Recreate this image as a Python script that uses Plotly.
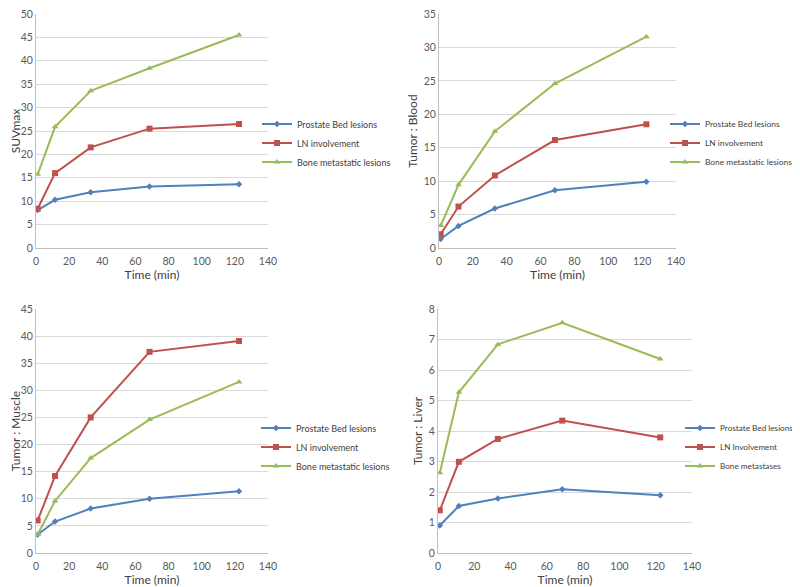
import plotly.graph_objects as go

# time points (min)
time_min = [1, 11.5, 33, 68.5, 122.5]

series_names = ["Prostate Bed lesions", "LN involvement", "Bone metastatic lesions"]
liver_names = ["Prostate Bed lesions", "LN Involvement", "Bone metastases"]

suv_prostate = [8.1, 10.3, 11.9, 13.15, 13.6]
suv_ln = [8.4, 16.0, 21.5, 25.5, 26.5]
suv_bone = [15.75, 25.9, 33.6, 38.4, 45.5]

blood_prostate = [1.35, 3.3, 5.9, 8.65, 9.9]
blood_ln = [2.05, 6.2, 10.85, 16.15, 18.5]
blood_bone = [3.35, 9.45, 17.45, 24.6, 31.6]

muscle_prostate = [3.4, 5.8, 8.2, 10.0, 11.4]
muscle_ln = [6.0, 14.2, 25.0, 37.1, 39.1]
muscle_bone = [3.4, 9.6, 17.5, 24.6, 31.55]

liver_prostate = [0.9, 1.54, 1.79, 2.09, 1.89]
liver_ln = [1.4, 2.99, 3.74, 4.34, 3.79]
liver_bone = [2.63, 5.27, 6.84, 7.55, 6.36]

colors = ["#4f81bd", "#c0504d", "#9bbb59"]
symbols = ["diamond", "square", "triangle-up"]
msizes = [5, 6, 6]

FONT = "Lato, Carlito, Calibri, Arial, sans-serif"
# page body has an 8px margin, so the figure is a bit smaller than the window
W, H = 792, 579

# positions in figure pixels (x0, x1), (y_bottom, y_top)
panels = [
    dict(ys=[suv_prostate, suv_ln, suv_bone], names=series_names, title="SUVmax",
         yrange=[0, 50], dtick=5, xdom=[28, 260], ydom=[240, 6], leg=(249, 135),
         legsize=9, tstand=2),
    dict(ys=[blood_prostate, blood_ln, blood_bone], names=series_names, title="Tumor : Blood",
         yrange=[0, 35], dtick=5, xdom=[431, 668], ydom=[240, 6], leg=(657, 135),
         legsize=8.4, tstand=3),
    dict(ys=[muscle_prostate, muscle_ln, muscle_bone], names=series_names, title="Tumor : Muscle",
         yrange=[0, 45], dtick=5, xdom=[28, 260], ydom=[545, 301], leg=(248, 439),
         legsize=9, tstand=2),
    dict(ys=[liver_prostate, liver_ln, liver_bone], names=liver_names, title="Tumor : Liver",
         yrange=[0, 8], dtick=1, xdom=[430, 684], ydom=[545, 301], leg=(672, 439),
         legsize=8.2, tstand=3),
]

fig = go.Figure()
layout = {}
for i, p in enumerate(panels):
    n = "" if i == 0 else str(i + 1)
    legname = "legend" + n
    for j in range(3):
        fig.add_trace(go.Scatter(
            x=time_min, y=p["ys"][j], name=p["names"][j], mode="lines+markers",
            line=dict(color=colors[j], width=2),
            marker=dict(symbol=symbols[j], size=msizes[j], color=colors[j]),
            xaxis="x" + n, yaxis="y" + n, legend=legname))
    layout["xaxis" + n] = dict(
        domain=[p["xdom"][0] / W, p["xdom"][1] / W], anchor="y" + n,
        range=[0, 140], dtick=20, tick0=0, automargin=False,
        showgrid=False, showline=True, linecolor="#bfbfbf", linewidth=1, ticks="",
        ticklabelstandoff=3, ticklabeloverflow="allow",
        zeroline=False, tickfont=dict(size=10.5, color="#595959"),
        title=dict(text="Time (min)", font=dict(size=12, color="#404040"), standoff=4))
    layout["yaxis" + n] = dict(
        domain=[1 - p["ydom"][0] / H, 1 - p["ydom"][1] / H], anchor="x" + n,
        range=p["yrange"], dtick=p["dtick"], tick0=0, automargin=False,
        ticklabeloverflow="allow",
        showgrid=True, gridcolor="#d9d9d9", gridwidth=1, showline=True, linecolor="#bfbfbf",
        linewidth=1, ticks="", zeroline=False, tickfont=dict(size=10.5, color="#595959"),
        title=dict(text=p["title"], font=dict(size=12, color="#404040"), standoff=p["tstand"]))
    layout[legname] = dict(
        x=p["leg"][0] / W, y=1 - p["leg"][1] / H, xanchor="left", yanchor="middle",
        bgcolor="rgba(255,255,255,0)", font=dict(size=p["legsize"], color="#404040"),
        tracegroupgap=0, itemwidth=30)

fig.update_layout(
    width=W, height=H, margin=dict(l=0, r=0, t=0, b=0, autoexpand=False),
    paper_bgcolor="white", plot_bgcolor="white",
    font=dict(family=FONT, color="#404040"), showlegend=True,
    **layout)

fig.write_html("out.html")
